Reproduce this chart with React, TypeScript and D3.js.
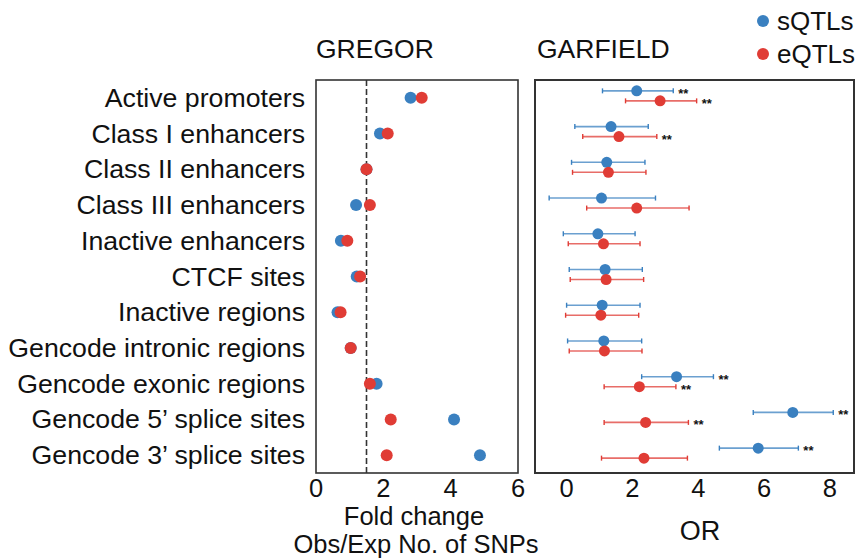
import React from "react";
import { scaleLinear, scalePoint } from "d3";

const categories = [
  "Active promoters",
  "Class I enhancers",
  "Class II enhancers",
  "Class III enhancers",
  "Inactive enhancers",
  "CTCF sites",
  "Inactive regions",
  "Gencode intronic regions",
  "Gencode exonic regions",
  "Gencode 5\u2019 splice sites",
  "Gencode 3\u2019 splice sites",
];

// GREGOR fold change
const gregorS = [2.81, 1.9, 1.5, 1.19, 0.74, 1.21, 0.64, 1.03, 1.8, 4.1, 4.87];
const gregorE = [3.14, 2.13, 1.5, 1.6, 0.93, 1.31, 0.73, 1.03, 1.6, 2.22, 2.1];
const gregorRef = 1.5;

// GARFIELD odds ratios with CI
const garS = [2.13, 1.35, 1.22, 1.06, 0.95, 1.17, 1.08, 1.13, 3.34, 6.87, 5.82];
const garSLo = [1.09, 0.25, 0.15, -0.53, -0.1, 0.08, 0.0, 0.03, 2.28, 5.67, 4.64];
const garSHi = [3.24, 2.48, 2.38, 2.7, 2.08, 2.3, 2.23, 2.28, 4.46, 8.1, 7.04];
const garSSig = [true, false, false, false, false, false, false, false, true, true, true];
const garE = [2.84, 1.59, 1.27, 2.13, 1.12, 1.2, 1.04, 1.15, 2.21, 2.4, 2.35];
const garELo = [1.79, 0.49, 0.18, 0.61, 0.05, 0.11, -0.03, 0.08, 1.14, 1.14, 1.06];
const garEHi = [3.95, 2.74, 2.41, 3.72, 2.23, 2.34, 2.19, 2.29, 3.32, 3.7, 3.67];
const garESig = [true, true, false, false, false, false, false, false, true, true, false];

const leftTicks = [0, 2, 4, 6];
const rightTicks = [0, 2, 4, 6, 8];

const BLUE = "#3a80c0";
const RED = "#e03c35";
const FONT = "Liberation Sans, Arial, sans-serif";

export default function App() {
  const top = 80;
  const bottom = 473;

  const y = scalePoint<string>().domain(categories).range([top, bottom]).padding(0.5);
  const xL = scaleLinear().domain([0, 6]).range([316, 518]);
  const xR = scaleLinear().domain([-0.96, 8.73]).range([535, 854]);

  const errRow = (
    vals: number[],
    lo: number[],
    hi: number[],
    sig: boolean[],
    color: string,
    dy: number,
    key: string
  ) =>
    categories.map((c, i) => {
      const cy = (y(c) as number) + dy;
      return (
        <g key={key + i}>
          <line x1={xR(lo[i])} x2={xR(hi[i])} y1={cy} y2={cy} stroke={color} strokeOpacity={0.75} strokeWidth={1.6} />
          <line x1={xR(lo[i])} x2={xR(lo[i])} y1={cy - 2.5} y2={cy + 2.5} stroke={color} strokeWidth={1.4} />
          <line x1={xR(hi[i])} x2={xR(hi[i])} y1={cy - 2.5} y2={cy + 2.5} stroke={color} strokeWidth={1.4} />
          <circle cx={xR(vals[i])} cy={cy} r={5.5} fill={color} />
          {sig[i] && (
            <text x={xR(hi[i]) + 5} y={cy + 7} fontSize={13} fontWeight="bold" fill="#111">
              **
            </text>
          )}
        </g>
      );
    });

  return (
    <svg
      width={862}
      height={560}
      style={{ position: "absolute", left: 0, top: 0, background: "#fff" }}
      fontFamily={FONT}
    >
      {/* category labels */}
      {categories.map((c) => (
        <text key={c} x={305} y={(y(c) as number) + 9} textAnchor="end" fontSize={26.7} fill="#111">
          {c}
        </text>
      ))}

      {/* panel titles */}
      <text x={316} y={58} fontSize={26.5} fill="#111">GREGOR</text>
      <text x={537} y={58} fontSize={26.5} fill="#111">GARFIELD</text>

      {/* legend */}
      <circle cx={763} cy={21} r={6} fill={BLUE} />
      <text x={777} y={30} fontSize={26} fill="#111">sQTLs</text>
      <circle cx={763} cy={54} r={6} fill={RED} />
      <text x={777} y={63} fontSize={26} fill="#111">eQTLs</text>

      {/* left panel */}
      <line x1={xL(gregorRef)} x2={xL(gregorRef)} y1={top} y2={bottom} stroke="#333" strokeWidth={1.6} strokeDasharray="6,3" />
      {categories.map((c, i) => (
        <circle key={"ls" + i} cx={xL(gregorS[i])} cy={y(c) as number} r={6} fill={BLUE} />
      ))}
      {categories.map((c, i) => (
        <circle key={"le" + i} cx={xL(gregorE[i])} cy={y(c) as number} r={6} fill={RED} />
      ))}
      <rect x={xL(0)} y={top} width={xL(6) - xL(0)} height={bottom - top} fill="none" stroke="#333" strokeWidth={1.6} />
      {leftTicks.map((t) => (
        <text key={"lt" + t} x={xL(t)} y={497} textAnchor="middle" fontSize={25.5} fill="#111">
          {t}
        </text>
      ))}
      <text x={414} y={525} textAnchor="middle" fontSize={25.5} fill="#111">Fold change</text>
      <text x={416} y={553} textAnchor="middle" fontSize={25.5} fill="#111">Obs/Exp No. of SNPs</text>

      {/* right panel */}
      {errRow(garS, garSLo, garSHi, garSSig, BLUE, -7, "rs")}
      {errRow(garE, garELo, garEHi, garESig, RED, 3, "re")}
      <rect x={535} y={top} width={854 - 535} height={bottom - top} fill="none" stroke="#333" strokeWidth={2} />
      {rightTicks.map((t) => (
        <text key={"rt" + t} x={xR(t)} y={497} textAnchor="middle" fontSize={25.5} fill="#111">
          {t}
        </text>
      ))}
      <text x={700} y={540} textAnchor="middle" fontSize={27} fill="#111">OR</text>
    </svg>
  );
}
